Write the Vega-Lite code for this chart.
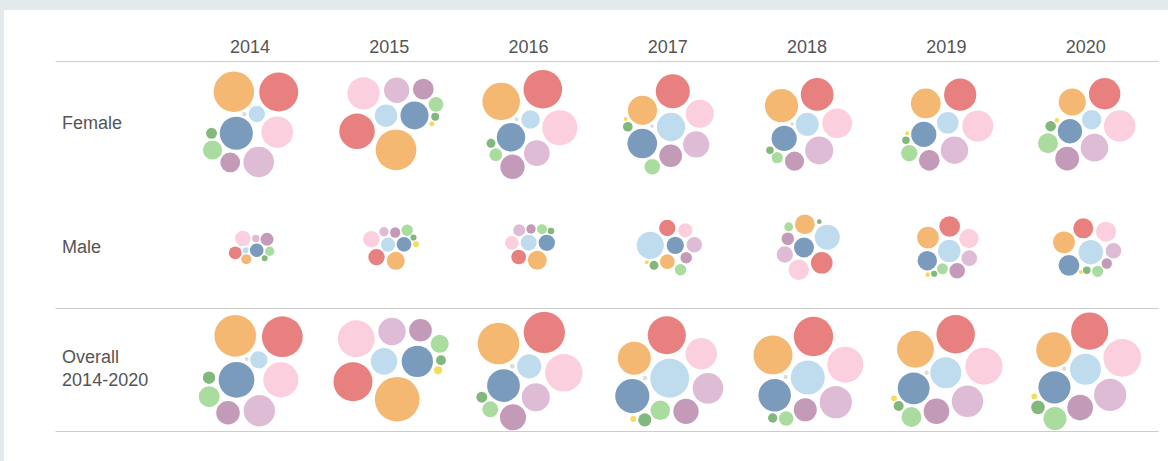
{
  "$schema": "https://vega.github.io/schema/vega-lite/v6.json",
  "width": 1164,
  "height": 451,
  "autosize": {"type": "none"},
  "padding": {"left": 4, "top": 10, "right": 0, "bottom": 0},
  "background": "#e4e9ec",
  "config": {"view": {"fill": "white", "stroke": null}},
  "data": {"values": [
    {"year":"2014","group":"Female","cat":"A","dx":-16.1,"dy":-31.0,"v":520},
    {"year":"2014","group":"Female","cat":"B","dx":28.8,"dy":-30.7,"v":484},
    {"year":"2014","group":"Female","cat":"D","dx":6.9,"dy":-8.7,"v":85},
    {"year":"2014","group":"Female","cat":"K","dx":-5.6,"dy":-8.4,"v":6},
    {"year":"2014","group":"Female","cat":"E","dx":-13.6,"dy":10.6,"v":350},
    {"year":"2014","group":"Female","cat":"C","dx":27.3,"dy":9.5,"v":317},
    {"year":"2014","group":"Female","cat":"I","dx":-38.4,"dy":10.6,"v":38},
    {"year":"2014","group":"Female","cat":"H","dx":-37.4,"dy":27.3,"v":117},
    {"year":"2014","group":"Female","cat":"G","dx":-19.7,"dy":39.8,"v":125},
    {"year":"2014","group":"Female","cat":"F","dx":8.8,"dy":39.3,"v":299},

    {"year":"2015","group":"Female","cat":"C","dx":-25.7,"dy":-29.4,"v":331},
    {"year":"2015","group":"Female","cat":"F","dx":7.5,"dy":-32.4,"v":204},
    {"year":"2015","group":"Female","cat":"G","dx":34.1,"dy":-33.5,"v":137},
    {"year":"2015","group":"Female","cat":"H","dx":46.8,"dy":-18.2,"v":69},
    {"year":"2015","group":"Female","cat":"D","dx":-3.2,"dy":-7.0,"v":161},
    {"year":"2015","group":"Female","cat":"E","dx":25.3,"dy":-7.2,"v":250},
    {"year":"2015","group":"Female","cat":"I","dx":46.0,"dy":-5.9,"v":20},
    {"year":"2015","group":"Female","cat":"J","dx":42.6,"dy":1.0,"v":8},
    {"year":"2015","group":"Female","cat":"B","dx":-32.2,"dy":8.6,"v":400},
    {"year":"2015","group":"Female","cat":"A","dx":6.8,"dy":27.1,"v":529},

    {"year":"2016","group":"Female","cat":"A","dx":-27.3,"dy":-21.2,"v":449},
    {"year":"2016","group":"Female","cat":"B","dx":14.3,"dy":-33.4,"v":475},
    {"year":"2016","group":"Female","cat":"D","dx":2.0,"dy":-3.2,"v":110},
    {"year":"2016","group":"Female","cat":"K","dx":-11.8,"dy":-3.4,"v":5},
    {"year":"2016","group":"Female","cat":"C","dx":31.3,"dy":5.1,"v":392},
    {"year":"2016","group":"Female","cat":"E","dx":-17.5,"dy":14.6,"v":256},
    {"year":"2016","group":"Female","cat":"I","dx":-37.5,"dy":20.6,"v":25},
    {"year":"2016","group":"Female","cat":"H","dx":-32.7,"dy":32.0,"v":52},
    {"year":"2016","group":"Female","cat":"F","dx":8.3,"dy":30.5,"v":210},
    {"year":"2016","group":"Female","cat":"G","dx":-16.0,"dy":44.1,"v":190},

    {"year":"2017","group":"Female","cat":"B","dx":5.0,"dy":-31.4,"v":369},
    {"year":"2017","group":"Female","cat":"A","dx":-25.3,"dy":-12.4,"v":272},
    {"year":"2017","group":"Female","cat":"C","dx":32.0,"dy":-8.9,"v":250},
    {"year":"2017","group":"Female","cat":"J","dx":-42.1,"dy":-3.7,"v":5},
    {"year":"2017","group":"Female","cat":"I","dx":-40.0,"dy":4.1,"v":30},
    {"year":"2017","group":"Female","cat":"K","dx":-15.8,"dy":3.6,"v":4},
    {"year":"2017","group":"Female","cat":"D","dx":3.2,"dy":4.3,"v":256},
    {"year":"2017","group":"Female","cat":"E","dx":-25.5,"dy":20.8,"v":279},
    {"year":"2017","group":"Female","cat":"F","dx":28.4,"dy":21.8,"v":219},
    {"year":"2017","group":"Female","cat":"G","dx":2.9,"dy":33.1,"v":164},
    {"year":"2017","group":"Female","cat":"H","dx":-15.5,"dy":44.1,"v":77},

    {"year":"2018","group":"Female","cat":"A","dx":-25.6,"dy":-17.0,"v":353},
    {"year":"2018","group":"Female","cat":"B","dx":10.1,"dy":-28.2,"v":342},
    {"year":"2018","group":"Female","cat":"K","dx":-14.8,"dy":1.3,"v":4},
    {"year":"2018","group":"Female","cat":"D","dx":0.2,"dy":1.6,"v":169},
    {"year":"2018","group":"Female","cat":"C","dx":30.1,"dy":0.6,"v":282},
    {"year":"2018","group":"Female","cat":"E","dx":-22.9,"dy":15.8,"v":202},
    {"year":"2018","group":"Female","cat":"I","dx":-37.1,"dy":27.5,"v":18},
    {"year":"2018","group":"Female","cat":"H","dx":-29.8,"dy":35.0,"v":40},
    {"year":"2018","group":"Female","cat":"F","dx":12.1,"dy":27.8,"v":250},
    {"year":"2018","group":"Female","cat":"G","dx":-12.6,"dy":38.5,"v":117},

    {"year":"2019","group":"Female","cat":"B","dx":13.8,"dy":-28.0,"v":331},
    {"year":"2019","group":"Female","cat":"A","dx":-20.6,"dy":-19.2,"v":282},
    {"year":"2019","group":"Female","cat":"D","dx":1.4,"dy":0.1,"v":149},
    {"year":"2019","group":"Female","cat":"C","dx":31.4,"dy":3.3,"v":306},
    {"year":"2019","group":"Female","cat":"J","dx":-39.1,"dy":10.6,"v":5},
    {"year":"2019","group":"Female","cat":"E","dx":-22.6,"dy":11.8,"v":202},
    {"year":"2019","group":"Female","cat":"I","dx":-40.4,"dy":17.5,"v":18},
    {"year":"2019","group":"Female","cat":"F","dx":8.1,"dy":27.5,"v":240},
    {"year":"2019","group":"Female","cat":"H","dx":-37.1,"dy":30.6,"v":86},
    {"year":"2019","group":"Female","cat":"G","dx":-17.1,"dy":37.6,"v":137},

    {"year":"2020","group":"Female","cat":"B","dx":19.0,"dy":-28.9,"v":313},
    {"year":"2020","group":"Female","cat":"A","dx":-13.4,"dy":-20.7,"v":234},
    {"year":"2020","group":"Female","cat":"D","dx":6.0,"dy":-3.0,"v":121},
    {"year":"2020","group":"Female","cat":"C","dx":34.0,"dy":3.3,"v":313},
    {"year":"2020","group":"Female","cat":"J","dx":-28.7,"dy":-2.4,"v":6},
    {"year":"2020","group":"Female","cat":"I","dx":-35.0,"dy":3.5,"v":35},
    {"year":"2020","group":"Female","cat":"E","dx":-15.7,"dy":8.6,"v":188},
    {"year":"2020","group":"Female","cat":"H","dx":-37.7,"dy":20.6,"v":128},
    {"year":"2020","group":"Female","cat":"F","dx":8.8,"dy":25.0,"v":243},
    {"year":"2020","group":"Female","cat":"G","dx":-18.5,"dy":36.0,"v":180},

    {"year":"2014","group":"Male","cat":"C","dx":-7.1,"dy":-7.5,"v":77},
    {"year":"2014","group":"Male","cat":"F","dx":5.9,"dy":-7.5,"v":18},
    {"year":"2014","group":"Male","cat":"G","dx":17.1,"dy":-6.7,"v":53},
    {"year":"2014","group":"Male","cat":"D","dx":-4.2,"dy":4.3,"v":11},
    {"year":"2014","group":"Male","cat":"E","dx":6.8,"dy":4.3,"v":59},
    {"year":"2014","group":"Male","cat":"B","dx":-14.7,"dy":6.8,"v":52},
    {"year":"2014","group":"Male","cat":"H","dx":19.8,"dy":5.3,"v":28},
    {"year":"2014","group":"Male","cat":"A","dx":-3.6,"dy":13.3,"v":32},
    {"year":"2014","group":"Male","cat":"I","dx":14.8,"dy":12.3,"v":11},

    {"year":"2015","group":"Male","cat":"C","dx":-17.9,"dy":-6.7,"v":86},
    {"year":"2015","group":"Male","cat":"F","dx":-5.2,"dy":-14.3,"v":28},
    {"year":"2015","group":"Male","cat":"G","dx":6.0,"dy":-13.5,"v":34},
    {"year":"2015","group":"Male","cat":"H","dx":18.0,"dy":-15.8,"v":42},
    {"year":"2015","group":"Male","cat":"I","dx":24.3,"dy":-8.5,"v":12},
    {"year":"2015","group":"Male","cat":"D","dx":-1.2,"dy":-1.3,"v":64},
    {"year":"2015","group":"Male","cat":"E","dx":14.8,"dy":-1.7,"v":69},
    {"year":"2015","group":"Male","cat":"J","dx":26.8,"dy":-1.7,"v":11},
    {"year":"2015","group":"Male","cat":"B","dx":-12.7,"dy":11.2,"v":85},
    {"year":"2015","group":"Male","cat":"A","dx":6.6,"dy":14.8,"v":104},

    {"year":"2016","group":"Male","cat":"F","dx":-9.3,"dy":-15.8,"v":46},
    {"year":"2016","group":"Male","cat":"G","dx":2.5,"dy":-17.0,"v":28},
    {"year":"2016","group":"Male","cat":"H","dx":13.5,"dy":-16.7,"v":32},
    {"year":"2016","group":"Male","cat":"I","dx":22.5,"dy":-15.0,"v":14},
    {"year":"2016","group":"Male","cat":"C","dx":-16.7,"dy":-3.2,"v":61},
    {"year":"2016","group":"Male","cat":"D","dx":0.2,"dy":-3.3,"v":81},
    {"year":"2016","group":"Male","cat":"E","dx":18.3,"dy":-3.2,"v":85},
    {"year":"2016","group":"Male","cat":"B","dx":-9.8,"dy":11.0,"v":69},
    {"year":"2016","group":"Male","cat":"A","dx":8.8,"dy":14.3,"v":114},

    {"year":"2017","group":"Male","cat":"B","dx":-0.5,"dy":-18.0,"v":85},
    {"year":"2017","group":"Male","cat":"C","dx":17.5,"dy":-15.7,"v":64},
    {"year":"2017","group":"Male","cat":"D","dx":-17.5,"dy":-0.7,"v":234},
    {"year":"2017","group":"Male","cat":"E","dx":7.5,"dy":-0.7,"v":94},
    {"year":"2017","group":"Male","cat":"F","dx":26.5,"dy":-1.2,"v":76},
    {"year":"2017","group":"Male","cat":"A","dx":-0.5,"dy":15.7,"v":69},
    {"year":"2017","group":"Male","cat":"G","dx":18.4,"dy":11.8,"v":42},
    {"year":"2017","group":"Male","cat":"J","dx":-21.1,"dy":16.3,"v":5},
    {"year":"2017","group":"Male","cat":"I","dx":-13.8,"dy":19.3,"v":25},
    {"year":"2017","group":"Male","cat":"H","dx":12.7,"dy":23.7,"v":42},

    {"year":"2018","group":"Male","cat":"A","dx":-2.3,"dy":-21.7,"v":125},
    {"year":"2018","group":"Male","cat":"I","dx":12.2,"dy":-24.3,"v":7},
    {"year":"2018","group":"Male","cat":"H","dx":-18.4,"dy":-19.2,"v":25},
    {"year":"2018","group":"Male","cat":"D","dx":20.2,"dy":-8.8,"v":199},
    {"year":"2018","group":"Male","cat":"G","dx":-19.3,"dy":-7.3,"v":50},
    {"year":"2018","group":"Male","cat":"E","dx":-3.1,"dy":1.5,"v":128},
    {"year":"2018","group":"Male","cat":"F","dx":-22.3,"dy":8.5,"v":85},
    {"year":"2018","group":"Male","cat":"B","dx":14.7,"dy":16.8,"v":149},
    {"year":"2018","group":"Male","cat":"C","dx":-8.3,"dy":23.8,"v":132},

    {"year":"2019","group":"Male","cat":"B","dx":3.3,"dy":-19.5,"v":137},
    {"year":"2019","group":"Male","cat":"A","dx":-18.4,"dy":-8.5,"v":149},
    {"year":"2019","group":"Male","cat":"C","dx":22.6,"dy":-7.5,"v":119},
    {"year":"2019","group":"Male","cat":"D","dx":2.9,"dy":5.0,"v":161},
    {"year":"2019","group":"Male","cat":"E","dx":-19.1,"dy":14.7,"v":121},
    {"year":"2019","group":"Male","cat":"F","dx":22.9,"dy":12.2,"v":79},
    {"year":"2019","group":"Male","cat":"H","dx":-3.9,"dy":22.8,"v":38},
    {"year":"2019","group":"Male","cat":"G","dx":10.8,"dy":24.8,"v":77},
    {"year":"2019","group":"Male","cat":"J","dx":-18.7,"dy":28.7,"v":7},
    {"year":"2019","group":"Male","cat":"I","dx":-12.2,"dy":27.7,"v":12},

    {"year":"2020","group":"Male","cat":"B","dx":-2.4,"dy":-17.7,"v":128},
    {"year":"2020","group":"Male","cat":"C","dx":20.3,"dy":-14.3,"v":128},
    {"year":"2020","group":"Male","cat":"A","dx":-21.7,"dy":-3.7,"v":151},
    {"year":"2020","group":"Male","cat":"D","dx":5.1,"dy":6.2,"v":190},
    {"year":"2020","group":"Male","cat":"F","dx":27.8,"dy":4.8,"v":77},
    {"year":"2020","group":"Male","cat":"E","dx":-16.7,"dy":19.3,"v":137},
    {"year":"2020","group":"Male","cat":"G","dx":21.1,"dy":17.5,"v":34},
    {"year":"2020","group":"Male","cat":"I","dx":1.1,"dy":24.2,"v":18},
    {"year":"2020","group":"Male","cat":"H","dx":12.0,"dy":25.3,"v":40},
    {"year":"2020","group":"Male","cat":"J","dx":-4.7,"dy":26.0,"v":5},

    {"year":"2014","group":"Overall 2014-2020","cat":"A","dx":-14.7,"dy":-33.5,"v":552},
    {"year":"2014","group":"Overall 2014-2020","cat":"B","dx":32.4,"dy":-32.6,"v":529},
    {"year":"2014","group":"Overall 2014-2020","cat":"K","dx":-3.2,"dy":-10.3,"v":5},
    {"year":"2014","group":"Overall 2014-2020","cat":"D","dx":8.9,"dy":-9.5,"v":96},
    {"year":"2014","group":"Overall 2014-2020","cat":"E","dx":-13.4,"dy":10.5,"v":408},
    {"year":"2014","group":"Overall 2014-2020","cat":"C","dx":30.9,"dy":10.5,"v":392},
    {"year":"2014","group":"Overall 2014-2020","cat":"I","dx":-40.9,"dy":8.4,"v":49},
    {"year":"2014","group":"Overall 2014-2020","cat":"H","dx":-40.7,"dy":27.4,"v":139},
    {"year":"2014","group":"Overall 2014-2020","cat":"G","dx":-21.9,"dy":43.4,"v":177},
    {"year":"2014","group":"Overall 2014-2020","cat":"F","dx":9.4,"dy":41.4,"v":313},

    {"year":"2015","group":"Overall 2014-2020","cat":"C","dx":-33.0,"dy":-30.6,"v":433},
    {"year":"2015","group":"Overall 2014-2020","cat":"F","dx":2.8,"dy":-37.8,"v":240},
    {"year":"2015","group":"Overall 2014-2020","cat":"G","dx":31.3,"dy":-39.1,"v":164},
    {"year":"2015","group":"Overall 2014-2020","cat":"H","dx":50.5,"dy":-25.5,"v":104},
    {"year":"2015","group":"Overall 2014-2020","cat":"D","dx":-5.2,"dy":-8.0,"v":225},
    {"year":"2015","group":"Overall 2014-2020","cat":"E","dx":28.1,"dy":-8.0,"v":313},
    {"year":"2015","group":"Overall 2014-2020","cat":"I","dx":51.8,"dy":-9.1,"v":31},
    {"year":"2015","group":"Overall 2014-2020","cat":"J","dx":48.8,"dy":0.9,"v":21},
    {"year":"2015","group":"Overall 2014-2020","cat":"B","dx":-36.2,"dy":12.4,"v":484},
    {"year":"2015","group":"Overall 2014-2020","cat":"A","dx":8.0,"dy":29.9,"v":635},

    {"year":"2016","group":"Overall 2014-2020","cat":"A","dx":-30.0,"dy":-25.8,"v":552},
    {"year":"2016","group":"Overall 2014-2020","cat":"B","dx":15.8,"dy":-37.0,"v":543},
    {"year":"2016","group":"Overall 2014-2020","cat":"K","dx":-16.2,"dy":-3.0,"v":7},
    {"year":"2016","group":"Overall 2014-2020","cat":"D","dx":0.7,"dy":-3.0,"v":185},
    {"year":"2016","group":"Overall 2014-2020","cat":"C","dx":35.3,"dy":3.5,"v":449},
    {"year":"2016","group":"Overall 2014-2020","cat":"E","dx":-25.0,"dy":16.2,"v":342},
    {"year":"2016","group":"Overall 2014-2020","cat":"F","dx":7.3,"dy":27.9,"v":250},
    {"year":"2016","group":"Overall 2014-2020","cat":"I","dx":-46.7,"dy":27.9,"v":38},
    {"year":"2016","group":"Overall 2014-2020","cat":"H","dx":-38.2,"dy":40.0,"v":81},
    {"year":"2016","group":"Overall 2014-2020","cat":"G","dx":-15.5,"dy":48.0,"v":216},

    {"year":"2017","group":"Overall 2014-2020","cat":"B","dx":-1.0,"dy":-34.1,"v":462},
    {"year":"2017","group":"Overall 2014-2020","cat":"A","dx":-33.5,"dy":-11.1,"v":346},
    {"year":"2017","group":"Overall 2014-2020","cat":"C","dx":33.5,"dy":-15.6,"v":313},
    {"year":"2017","group":"Overall 2014-2020","cat":"K","dx":-22.8,"dy":8.7,"v":6},
    {"year":"2017","group":"Overall 2014-2020","cat":"D","dx":1.9,"dy":9.0,"v":484},
    {"year":"2017","group":"Overall 2014-2020","cat":"E","dx":-35.5,"dy":26.7,"v":372},
    {"year":"2017","group":"Overall 2014-2020","cat":"F","dx":40.2,"dy":19.0,"v":299},
    {"year":"2017","group":"Overall 2014-2020","cat":"H","dx":-7.5,"dy":41.0,"v":121},
    {"year":"2017","group":"Overall 2014-2020","cat":"G","dx":18.2,"dy":42.0,"v":204},
    {"year":"2017","group":"Overall 2014-2020","cat":"J","dx":-34.5,"dy":49.7,"v":11},
    {"year":"2017","group":"Overall 2014-2020","cat":"I","dx":-23.0,"dy":50.5,"v":56},

    {"year":"2018","group":"Overall 2014-2020","cat":"B","dx":6.4,"dy":-32.8,"v":493},
    {"year":"2018","group":"Overall 2014-2020","cat":"A","dx":-34.1,"dy":-14.3,"v":484},
    {"year":"2018","group":"Overall 2014-2020","cat":"C","dx":38.2,"dy":-4.6,"v":412},
    {"year":"2018","group":"Overall 2014-2020","cat":"K","dx":-21.4,"dy":7.7,"v":6},
    {"year":"2018","group":"Overall 2014-2020","cat":"D","dx":0.7,"dy":8.2,"v":369},
    {"year":"2018","group":"Overall 2014-2020","cat":"E","dx":-32.4,"dy":25.9,"v":335},
    {"year":"2018","group":"Overall 2014-2020","cat":"F","dx":28.7,"dy":32.9,"v":331},
    {"year":"2018","group":"Overall 2014-2020","cat":"G","dx":-1.8,"dy":40.4,"v":169},
    {"year":"2018","group":"Overall 2014-2020","cat":"H","dx":-20.9,"dy":49.2,"v":67},
    {"year":"2018","group":"Overall 2014-2020","cat":"I","dx":-34.4,"dy":48.7,"v":28},

    {"year":"2019","group":"Overall 2014-2020","cat":"B","dx":9.3,"dy":-35.0,"v":471},
    {"year":"2019","group":"Overall 2014-2020","cat":"A","dx":-30.9,"dy":-20.1,"v":433},
    {"year":"2019","group":"Overall 2014-2020","cat":"C","dx":37.6,"dy":-3.1,"v":437},
    {"year":"2019","group":"Overall 2014-2020","cat":"K","dx":-19.7,"dy":3.4,"v":6},
    {"year":"2019","group":"Overall 2014-2020","cat":"D","dx":-0.6,"dy":3.5,"v":306},
    {"year":"2019","group":"Overall 2014-2020","cat":"E","dx":-32.7,"dy":19.0,"v":324},
    {"year":"2019","group":"Overall 2014-2020","cat":"F","dx":21.1,"dy":32.0,"v":317},
    {"year":"2019","group":"Overall 2014-2020","cat":"J","dx":-52.4,"dy":29.0,"v":11},
    {"year":"2019","group":"Overall 2014-2020","cat":"I","dx":-47.7,"dy":36.7,"v":32},
    {"year":"2019","group":"Overall 2014-2020","cat":"G","dx":-9.9,"dy":41.9,"v":210},
    {"year":"2019","group":"Overall 2014-2020","cat":"H","dx":-34.9,"dy":47.7,"v":125},

    {"year":"2020","group":"Overall 2014-2020","cat":"B","dx":4.0,"dy":-38.3,"v":441},
    {"year":"2020","group":"Overall 2014-2020","cat":"A","dx":-32.0,"dy":-19.6,"v":388},
    {"year":"2020","group":"Overall 2014-2020","cat":"C","dx":36.6,"dy":-11.5,"v":454},
    {"year":"2020","group":"Overall 2014-2020","cat":"K","dx":-21.4,"dy":-0.6,"v":6},
    {"year":"2020","group":"Overall 2014-2020","cat":"D","dx":-0.2,"dy":-0.1,"v":306},
    {"year":"2020","group":"Overall 2014-2020","cat":"E","dx":-31.2,"dy":18.0,"v":328},
    {"year":"2020","group":"Overall 2014-2020","cat":"F","dx":24.5,"dy":25.5,"v":331},
    {"year":"2020","group":"Overall 2014-2020","cat":"J","dx":-51.4,"dy":27.0,"v":11},
    {"year":"2020","group":"Overall 2014-2020","cat":"I","dx":-47.7,"dy":38.0,"v":59},
    {"year":"2020","group":"Overall 2014-2020","cat":"G","dx":-5.5,"dy":38.2,"v":210},
    {"year":"2020","group":"Overall 2014-2020","cat":"H","dx":-30.7,"dy":49.2,"v":169}
  ]},
  "mark": {"type": "circle", "opacity": 1},
  "encoding": {
    "x": {
      "field": "year", "type": "ordinal",
      "scale": {"range": [51, 1154], "paddingInner": 0, "paddingOuter": 0.4593, "align": 0.979},
      "axis": {
        "orient": "top", "offset": -51, "title": null, "domain": false, "ticks": false, "tickSize": 0,
        "grid": false, "labelAngle": 0, "labelBaseline": "alphabetic", "labelPadding": 8.3,
        "labelFont": "Liberation Sans", "labelFontSize": 18, "labelColor": "#555555"
      }
    },
    "xOffset": {
      "field": "dx", "type": "quantitative",
      "scale": {"domain": [-69.645, 69.645], "range": [0, 139.29], "zero": false, "nice": false}
    },
    "y": {
      "field": "group", "type": "nominal",
      "sort": ["Female", "Male", "Overall 2014-2020"],
      "scale": {"range": [51, 421], "paddingInner": 0, "paddingOuter": 0},
      "axis": {
        "orient": "left", "title": null, "domain": false, "ticks": false, "tickSize": 0,
        "grid": true, "tickBand": "extent", "gridColor": "#cccccc", "gridWidth": 1,
        "gridOpacity": {"condition": {"test": "datum.value === 'Female' && datum.index < 0.5", "value": 0}, "value": 1},
        "labelAlign": "left", "labelBaseline": "middle", "labelPadding": -57.6,
        "labelOffset": {"condition": {"test": "datum.value === 'Overall 2014-2020'", "value": -11.5}, "value": 1},
        "labelFont": "Liberation Sans", "labelFontSize": 18, "labelColor": "#555555", "labelLineHeight": 23,
        "labelExpr": "datum.value === 'Overall 2014-2020' ? ['Overall', '2014-2020'] : datum.label"
      }
    },
    "yOffset": {
      "field": "dy", "type": "quantitative",
      "scale": {"domain": [-61.667, 61.667], "range": [0, 123.333], "zero": false, "nice": false}
    },
    "size": {
      "field": "v", "type": "quantitative", "legend": null,
      "scale": {"type": "linear", "domain": [0, 100], "range": [0, 314.159], "zero": true}
    },
    "color": {
      "field": "cat", "type": "nominal", "legend": null,
      "scale": {
        "domain": ["A", "B", "C", "D", "E", "F", "G", "H", "I", "J", "K"],
        "range": ["#f5b872", "#e8807f", "#fbcfdd", "#bfdcef", "#7b9bbd", "#dfbcd6", "#c49ab9", "#a9dc9e", "#82b87b", "#f5dc5c", "#dcdcdc"]
      }
    }
  }
}
